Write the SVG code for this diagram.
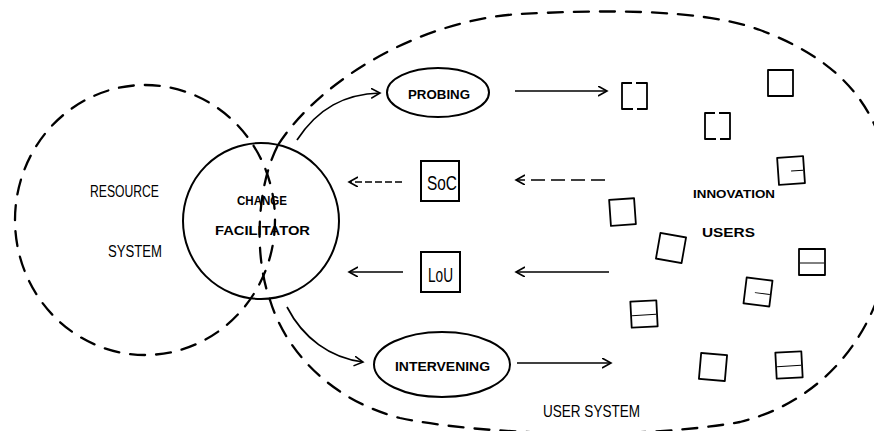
<svg xmlns="http://www.w3.org/2000/svg" width="874" height="431" viewBox="0 0 874 431">
  <style>
    .bound { fill: none; stroke: #000; stroke-width: 2.3; stroke-dasharray: 15 11; stroke-linecap: round; }
    .solid { fill: none; stroke: #000; stroke-width: 2; }
    .conn  { fill: none; stroke: #000; stroke-width: 1.7; }
    .user  { fill: none; stroke: #000; stroke-width: 1.8; stroke-linejoin: round; }
    .mid   { stroke: #000; stroke-width: 1; }
    .lbl   { font-family: "Liberation Sans", Arial, sans-serif; fill: #000; text-anchor: middle; }
    .b     { font-weight: bold; }
  </style>
  <defs>
    <marker id="arrow" markerUnits="userSpaceOnUse" markerWidth="12" markerHeight="12" refX="9" refY="5" orient="auto">
      <path d="M0,0 L9,5 L0,10" fill="none" stroke="#000" stroke-width="1.6"/>
    </marker>
  </defs>
  <rect width="874" height="431" fill="#fff"/>

  <!-- system boundaries -->
  <g id="resource-system">
    <ellipse class="bound" cx="145" cy="220" rx="130" ry="135"/>
    <text class="lbl" x="124.5" y="197" font-size="16" textLength="69" lengthAdjust="spacingAndGlyphs">RESOURCE</text>
    <text class="lbl" x="135" y="257" font-size="16" textLength="54" lengthAdjust="spacingAndGlyphs">SYSTEM</text>
  </g>
  <g id="user-system">
    <path class="bound" d="M278,145 C320,80 420,20 520,14 C600,10 700,8 760,30 C840,60 892,110 892,215 C892,320 830,400 740,422 C640,440 480,435 400,418 C330,400 285,350 270,300 C255,260 255,190 278,145 Z"/>
    <text class="lbl" x="591.5" y="417" font-size="17" textLength="97" lengthAdjust="spacingAndGlyphs">USER SYSTEM</text>
  </g>

  <!-- change facilitator -->
  <g id="change-facilitator">
    <circle class="solid" cx="261" cy="221" r="78"/>
    <text class="lbl b" x="262" y="205" font-size="13" textLength="50" lengthAdjust="spacingAndGlyphs">CHANGE</text>
    <text class="lbl b" x="262.5" y="235" font-size="13" textLength="95" lengthAdjust="spacingAndGlyphs">FACILITATOR</text>
  </g>

  <g id="probing">
    <ellipse class="solid" cx="438" cy="92.5" rx="51" ry="24.5"/>
    <text class="lbl b" x="439" y="99" font-size="12.5" textLength="62" lengthAdjust="spacingAndGlyphs">PROBING</text>
  </g>

  <g id="soc">
    <rect class="solid" x="421" y="161" width="38" height="40"/>
    <text class="lbl" x="442" y="190" font-size="21" textLength="30" lengthAdjust="spacingAndGlyphs">SoC</text>
  </g>

  <g id="lou">
    <rect class="solid" x="421" y="252" width="39" height="40"/>
    <text class="lbl" x="440.5" y="282" font-size="20" textLength="25" lengthAdjust="spacingAndGlyphs">LoU</text>
  </g>

  <g id="intervening">
    <ellipse class="solid" cx="442" cy="364.5" rx="68" ry="32.5"/>
    <text class="lbl b" x="442.5" y="371" font-size="13.5" textLength="95" lengthAdjust="spacingAndGlyphs">INTERVENING</text>
  </g>

  <!-- innovation users -->
  <g id="innovation-users">
    <text class="lbl b" x="734" y="198" font-size="11" textLength="82" lengthAdjust="spacingAndGlyphs">INNOVATION</text>
    <text class="lbl b" x="728.5" y="237" font-size="13" textLength="53" lengthAdjust="spacingAndGlyphs">USERS</text>
  </g>
  <g id="user-1"><rect class="user" x="622" y="83" width="25" height="26" stroke-dasharray="10 4 47 4 37"/></g>
  <g id="user-2"><rect class="user" x="768" y="70" width="25" height="26"/></g>
  <g id="user-3"><rect class="user" x="705" y="113" width="25" height="26" stroke-dasharray="10 4 47 4 37"/></g>
  <g id="user-4" transform="rotate(-4 791 170)"><rect class="user" x="778" y="157" width="26" height="27"/><line class="mid" x1="791" y1="171" x2="803" y2="171"/></g>
  <g id="user-5" transform="rotate(-4 623 212)"><rect class="user" x="610" y="199" width="25" height="26"/></g>
  <g id="user-6" transform="rotate(10 671 248)"><rect class="user" x="658" y="235" width="26" height="26"/></g>
  <g id="user-7"><rect class="user" x="799" y="249" width="26" height="26"/><line class="mid" x1="800" y1="263" x2="824" y2="263"/></g>
  <g id="user-8" transform="rotate(7 758 292)"><rect class="user" x="745" y="279" width="26" height="26"/><line class="mid" x1="755" y1="293" x2="770" y2="293"/></g>
  <g id="user-9" transform="rotate(-3 644 314)"><rect class="user" x="631" y="301" width="26" height="26"/><line class="mid" x1="632" y1="315" x2="656" y2="315"/></g>
  <g id="user-10" transform="rotate(5 713 367)"><rect class="user" x="700" y="354" width="26" height="26"/></g>
  <g id="user-11" transform="rotate(-3 789 365)"><rect class="user" x="776" y="352" width="26" height="26"/><line class="mid" x1="777" y1="366" x2="801" y2="366"/></g>

  <!-- connectors -->
  <g id="connectors">
    <path class="conn" d="M297,140 C318,108 345,94 380,93" marker-end="url(#arrow)"/>
    <path class="conn" d="M515,91 L607,91" marker-end="url(#arrow)"/>
    <path class="conn" d="M605,180 L516,180" stroke-dasharray="14 6" marker-end="url(#arrow)"/>
    <path class="conn" d="M402,182 L349,182" stroke-dasharray="7 3" marker-end="url(#arrow)"/>
    <path class="conn" d="M609,272 L516,272" marker-end="url(#arrow)"/>
    <path class="conn" d="M403,272 L349,272" marker-end="url(#arrow)"/>
    <path class="conn" d="M287,307 C303,338 330,358 363,362" marker-end="url(#arrow)"/>
    <path class="conn" d="M517,363 L611,363" marker-end="url(#arrow)"/>
  </g>
</svg>
